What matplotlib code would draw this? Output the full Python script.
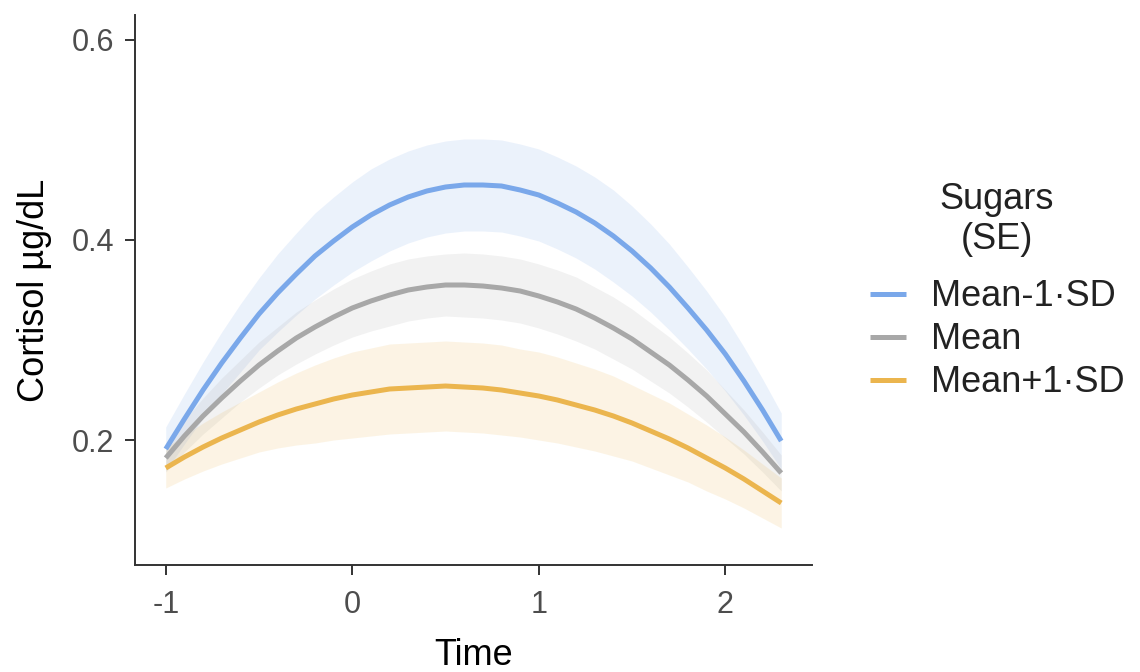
import numpy as np
import matplotlib
matplotlib.use('Agg')
import matplotlib.pyplot as plt

plt.rcParams['font.family'] = ['Liberation Sans', 'DejaVu Sans']

# time points
time = [-1.0, -0.9, -0.8, -0.7, -0.6, -0.5, -0.4, -0.3, -0.2, -0.1,
        0.0, 0.1, 0.2, 0.3, 0.4, 0.5, 0.6, 0.7, 0.8, 0.9,
        1.0, 1.1, 1.2, 1.3, 1.4, 1.5, 1.6, 1.7, 1.8, 1.9,
        2.0, 2.1, 2.2, 2.3]

# Mean-1·SD
low_fit = [0.191, 0.221, 0.250, 0.277, 0.302, 0.326, 0.347, 0.366, 0.384, 0.399,
           0.413, 0.425, 0.435, 0.443, 0.449, 0.453, 0.455, 0.455, 0.454, 0.450,
           0.445, 0.437, 0.428, 0.417, 0.404, 0.389, 0.372, 0.353, 0.332, 0.310,
           0.286, 0.259, 0.230, 0.199]
low_se = [0.022, 0.025, 0.028, 0.031, 0.034, 0.036, 0.039, 0.041, 0.043, 0.044,
          0.045, 0.046, 0.046, 0.046, 0.046, 0.046, 0.046, 0.046, 0.046, 0.046,
          0.046, 0.046, 0.046, 0.046, 0.046, 0.045, 0.044, 0.043, 0.041, 0.039,
          0.037, 0.034, 0.031, 0.028]

# Mean
mid_fit = [0.182, 0.204, 0.224, 0.242, 0.259, 0.275, 0.289, 0.302, 0.313, 0.323,
           0.332, 0.339, 0.345, 0.350, 0.353, 0.355, 0.355, 0.354, 0.352, 0.349,
           0.344, 0.338, 0.331, 0.322, 0.312, 0.301, 0.288, 0.275, 0.260, 0.244,
           0.226, 0.208, 0.188, 0.167]
mid_se = [0.014, 0.016, 0.018, 0.020, 0.021, 0.023, 0.024, 0.026, 0.027, 0.028,
          0.029, 0.030, 0.031, 0.031, 0.031, 0.031, 0.032, 0.032, 0.032, 0.032,
          0.032, 0.032, 0.032, 0.031, 0.031, 0.030, 0.029, 0.028, 0.027, 0.026,
          0.024, 0.022, 0.020, 0.018]

# Mean+1·SD
high_fit = [0.172, 0.183, 0.193, 0.202, 0.210, 0.218, 0.225, 0.231, 0.236, 0.241,
            0.245, 0.248, 0.251, 0.252, 0.253, 0.254, 0.253, 0.252, 0.250, 0.247,
            0.244, 0.240, 0.235, 0.230, 0.224, 0.217, 0.209, 0.201, 0.192, 0.182,
            0.172, 0.161, 0.149, 0.137]
high_se = [0.020, 0.022, 0.024, 0.026, 0.028, 0.030, 0.033, 0.036, 0.039, 0.041,
           0.043, 0.044, 0.045, 0.045, 0.045, 0.045, 0.045, 0.045, 0.045, 0.044,
           0.044, 0.043, 0.042, 0.041, 0.040, 0.038, 0.037, 0.036, 0.034, 0.033,
           0.031, 0.029, 0.027, 0.025]

labels = ['Mean-1·SD', 'Mean', 'Mean+1·SD']
colors = ['#7aa8ea', '#a8a8a8', '#ebb54e']

fig = plt.figure(figsize=(11.4, 6.72), dpi=100)
ax = fig.add_axes([0.1184, 0.1592, 0.5939, 0.8185])

t = np.array(time)
series = [(low_fit, low_se), (mid_fit, mid_se), (high_fit, high_se)]
for (fit, se), col in zip(series, colors):
    fit = np.array(fit)
    se = np.array(se)
    ax.fill_between(t, fit - se, fit + se, color=col, alpha=0.15, lw=0)
for (fit, se), col, lab in zip(series, colors, labels):
    ax.plot(t, fit, color=col, lw=3.6, label=lab, solid_capstyle='butt')

ax.set_xlim(-1.165, 2.465)
ax.set_ylim(0.075, 0.625)
ax.set_xticks([-1, 0, 1, 2])
ax.set_xticklabels(['-1', '0', '1', '2'])
ax.set_yticks([0.2, 0.4, 0.6])
ax.set_yticklabels(['0.2', '0.4', '0.6'])

for s in ['top', 'right']:
    ax.spines[s].set_visible(False)
for s in ['left', 'bottom']:
    ax.spines[s].set_linewidth(1.4)
    ax.spines[s].set_color('#333333')
ax.tick_params(axis='both', length=7, width=1.4, color='#333333',
               labelsize=22, labelcolor='#4d4d4d')
ax.tick_params(axis='x', pad=11)
ax.tick_params(axis='y', pad=8)

ax.set_xlabel('Time', fontsize=26, labelpad=13)
ax.set_ylabel('Cortisol µg/dL', fontsize=26, labelpad=14)

# legend on the right, handles start at about x=870 px
leg = ax.legend(title='Sugars\n(SE)', loc='upper left', bbox_to_anchor=(1.037, 0.755),
                frameon=False, fontsize=26, title_fontsize=26, borderpad=0.4,
                handlelength=1.0, handletextpad=0.7, labelspacing=0.22)
leg.get_title().set_multialignment('center')
leg.get_title().set_linespacing(1.18)
leg.get_title().set_color('#222222')
leg._legend_box.sep = 16
for txt in leg.get_texts():
    txt.set_color('#222222')
for h in leg.get_lines():
    h.set_linewidth(3.6)

fig.savefig('out.png', dpi=100)
